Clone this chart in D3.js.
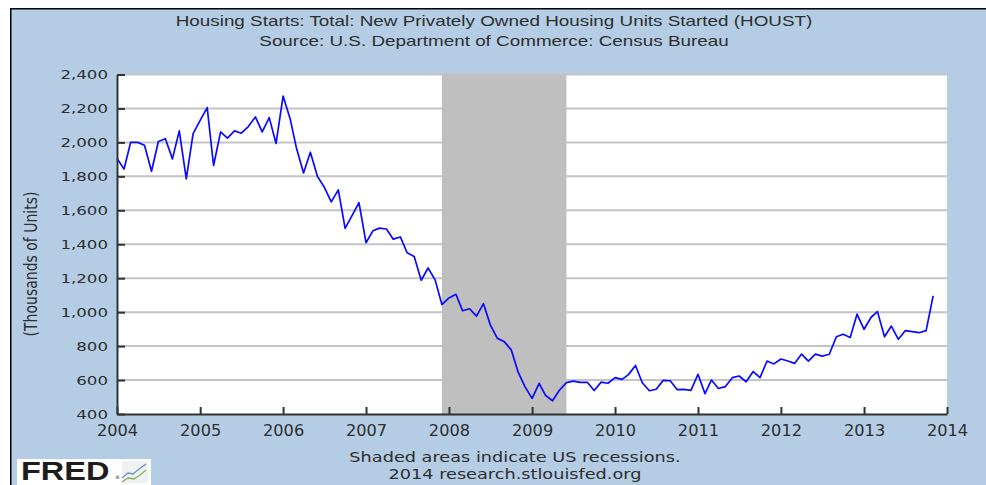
<!DOCTYPE html>
<html>
<head>
<meta charset="utf-8">
<script src="https://cdn.jsdelivr.net/npm/d3@7/dist/d3.min.js"></script>
<style>
    body { margin: 0; background: #fff; }
    svg { display: block; }
</style>
</head>
<body>
<svg id="chart" width="986" height="485"></svg>
<script>
// Housing starts (HOUST), thousands of units, monthly from Jan 2004 to Nov 2013
var firstMonth = "2004-01";
var houst = [
    1906, 1843, 2000, 2000, 1983, 1830, 2005, 2022, 1903, 2068, 1785, 2052,   // 2004
    2130, 2205, 1864, 2062, 2025, 2068, 2054, 2093, 2150, 2062, 2146, 1994,   // 2005
    2273, 2140, 1965, 1820, 1942, 1800, 1737, 1650, 1720, 1494, 1570, 1645,   // 2006
    1409, 1480, 1495, 1490, 1430, 1443, 1350, 1328, 1188, 1260, 1190, 1045,   // 2007
    1084, 1105, 1008, 1020, 977, 1050, 925, 846, 825, 778, 645, 560,          // 2008
    492, 581, 510, 478, 540, 585, 594, 586, 587, 538, 588, 581,               // 2009
    614, 604, 632, 686, 584, 537, 546, 598, 596, 544, 545, 539,               // 2010
    634, 520, 600, 550, 561, 614, 624, 590, 650, 614, 712, 695,               // 2011
    724, 712, 698, 753, 712, 753, 741, 752, 855, 870, 851, 988,               // 2012
    899, 970, 1003, 855, 918, 840, 891, 885, 879, 891, 1096                   // 2013
];
var yTicks = [400, 600, 800, 1000, 1200, 1400, 1600, 1800, 2000, 2200, 2400];
var xTickYears = [2004, 2005, 2006, 2007, 2008, 2009, 2010, 2011, 2012, 2013, 2014];
var recession = ["2007-12", "2009-06"];
var titleLines = [
    "Housing Starts: Total: New Privately Owned Housing Units Started (HOUST)",
    "Source: U.S. Department of Commerce: Census Bureau"
];
var footerLines = [
    "Shaded areas indicate US recessions.",
    "2014 research.stlouisfed.org"
];
var yTitle = "(Thousands of Units)";

var parseMonth = d3.timeParse("%Y-%m");

var svg = d3.select("#chart");
var W = +svg.attr("width"), H = +svg.attr("height");
var plot = { left: 117, right: 947, top: 74.5, bottom: 414 };
var textColor = "#2e2e2e";

// the picture is a bit wider than its fonts, so text gets stretched sideways
function stretch(sel, k) {
    sel.each(function () {
        var w = this.getComputedTextLength();
        d3.select(this).attr("textLength", w * k).attr("lengthAdjust", "spacingAndGlyphs");
    });
}

// background + frame
svg.append("rect").attr("width", W).attr("height", H).attr("fill", "#fff");
svg.append("rect").attr("x", 10).attr("y", 8).attr("width", W - 10).attr("height", H - 8).attr("fill", "#000");
svg.append("rect").attr("x", 11.5).attr("y", 9.5).attr("width", W - 11.5).attr("height", H - 9.5).attr("fill", "#b4cde4");

// scales
var t0 = parseMonth(firstMonth);
var dates = houst.map(function (v, i) { return d3.timeMonth.offset(t0, i); });

var x = d3.scaleTime()
    .domain([new Date(xTickYears[0], 0, 1), new Date(xTickYears[xTickYears.length - 1], 0, 1)])
    .range([plot.left, plot.right]);

var y = d3.scaleLinear()
    .domain([yTicks[0], yTicks[yTicks.length - 1]])
    .range([plot.bottom, plot.top]);

// white plot area
svg.append("rect")
    .attr("x", plot.left).attr("y", plot.top)
    .attr("width", plot.right - plot.left).attr("height", plot.bottom - plot.top)
    .attr("fill", "#fff");

// horizontal grid lines
svg.append("g").selectAll("line")
    .data(yTicks.slice(1))
    .enter().append("line")
    .attr("x1", plot.left).attr("x2", plot.right)
    .attr("y1", function (d) { return y(d); })
    .attr("y2", function (d) { return y(d); })
    .attr("stroke", "#c4c4c4")
    .attr("stroke-width", 2);

// recession shading
svg.append("rect")
    .attr("x", x(parseMonth(recession[0])))
    .attr("y", plot.top)
    .attr("width", x(parseMonth(recession[1])) - x(parseMonth(recession[0])))
    .attr("height", plot.bottom - plot.top)
    .attr("fill", "#bfbfbf");

// series
var line = d3.line()
    .x(function (d, i) { return x(dates[i]); })
    .y(function (d) { return y(d); });

svg.append("path")
    .datum(houst)
    .attr("d", line)
    .attr("fill", "none")
    .attr("stroke", "#0a0aff")
    .attr("stroke-width", 1.7)
    .attr("stroke-linejoin", "round");

// axes (ticks point into the plot)
var yAxis = svg.append("g")
    .attr("transform", "translate(" + plot.left + ",0)")
    .call(d3.axisLeft(y)
        .tickValues(yTicks)
        .tickSize(-8)
        .tickSizeOuter(0)
        .tickPadding(9)
        .tickFormat(d3.format(",")));

var xAxis = svg.append("g")
    .attr("transform", "translate(0," + plot.bottom + ")")
    .call(d3.axisBottom(x)
        .tickValues(xTickYears.map(function (yr) { return new Date(yr, 0, 1); }))
        .tickSize(-7)
        .tickSizeOuter(0)
        .tickPadding(11)
        .tickFormat(d3.timeFormat("%Y")));

[yAxis, xAxis].forEach(function (g) {
    g.select(".domain").attr("stroke", "#333").attr("stroke-width", 2);
    g.selectAll(".tick line").attr("stroke", "#333").attr("stroke-width", 2);
    g.selectAll(".tick text")
        .attr("fill", textColor)
        .style("font-family", "DejaVu Sans");
});
yAxis.selectAll(".tick text").style("font-size", "12.5px").call(stretch, 1.33);
xAxis.selectAll(".tick text").style("font-size", "15px").call(stretch, 1.08);

// y axis title
svg.append("text")
    .attr("transform", "translate(31,264) rotate(-90) scale(1,1.2)")
    .attr("text-anchor", "middle")
    .attr("dy", "0.35em")
    .style("font-family", "DejaVu Sans")
    .style("font-size", "14px")
    .attr("fill", textColor)
    .text(yTitle);

// titles
svg.append("g").selectAll("text")
    .data(titleLines)
    .enter().append("text")
    .attr("x", 494)
    .attr("y", function (d, i) { return 26 + i * 20; })
    .attr("text-anchor", "middle")
    .style("font-family", "Liberation Sans")
    .style("font-size", "14.5px")
    .attr("fill", textColor)
    .text(function (d) { return d; })
    .call(stretch, 1.3);

// footer
svg.append("g").selectAll("text")
    .data(footerLines)
    .enter().append("text")
    .attr("x", 515)
    .attr("y", function (d, i) { return 462 + i * 17; })
    .attr("text-anchor", "middle")
    .style("font-family", "DejaVu Sans")
    .style("font-size", "14.5px")
    .attr("fill", textColor)
    .text(function (d) { return d; })
    .call(stretch, 1.22);

// FRED logo, bottom left
var logo = svg.append("g").attr("transform", "translate(17,459)");
logo.append("rect").attr("width", 134).attr("height", 26).attr("fill", "#fff");
logo.append("text")
    .attr("x", 4).attr("y", 20.5)
    .style("font-family", "Liberation Sans")
    .style("font-size", "25px")
    .style("font-weight", "bold")
    .attr("fill", "#1e1c1c")
    .text("FRED")
    .call(stretch, 1.3);
logo.append("text")
    .attr("x", 98).attr("y", 20)
    .style("font-family", "DejaVu Sans")
    .style("font-size", "5px")
    .attr("fill", "#1e1c1c")
    .text("®");
var iconBlue = [[0, 17], [6, 12], [11, 13], [17, 8], [24, 3]];
var iconGreen = [[0, 21], [6, 17], [12, 18], [18, 14], [24, 9]];
var icon = logo.append("g").attr("transform", "translate(105,2)");
icon.append("rect").attr("width", 26).attr("height", 22).attr("fill", "#eef2f5");
icon.append("path").attr("d", d3.line()(iconBlue)).attr("fill", "none").attr("stroke", "#6f93c3").attr("stroke-width", 1.3);
icon.append("path").attr("d", d3.line()(iconGreen)).attr("fill", "none").attr("stroke", "#8ab34d").attr("stroke-width", 1.3);
</script>
</body>
</html>
